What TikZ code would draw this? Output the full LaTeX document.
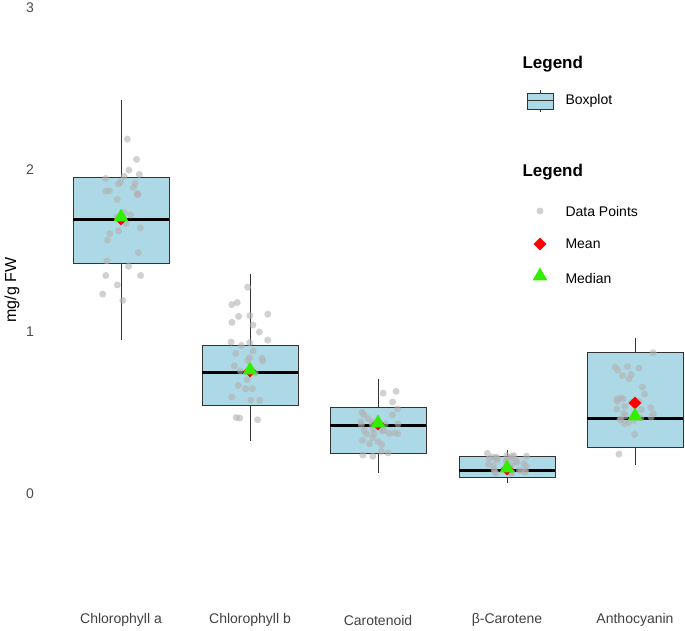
\documentclass[tikz,border=0pt]{standalone}
\usepackage{fontspec}
\setmainfont{Liberation Sans}
\usetikzlibrary{shapes.geometric,positioning}
\definecolor{boxfill}{HTML}{ADD8E6}
\definecolor{medgreen}{HTML}{33EE00}
\tikzset{
  databox/.style={draw=black!80,fill=boxfill,line width=0.8pt},
  medline/.style={line width=3pt},
  jitpt/.style={circle,fill=gray!60,opacity=0.6,inner sep=0pt,minimum size=7pt},
  meanmark/.style={diamond,fill=red,inner sep=0pt,minimum size=13pt},
  medmark/.style={regular polygon,regular polygon sides=3,fill=medgreen,inner sep=0pt,minimum size=17pt},
  ticklab/.style={text=black!70,font=\fontsize{14}{16}\selectfont},
  catlab/.style={text=black!75,font=\fontsize{14}{16}\selectfont},
  legtxt/.style={anchor=west,font=\fontsize{14}{16}\selectfont},
  leghead/.style={anchor=west,font=\fontsize{17}{19}\selectfont\bfseries}
}
\begin{document}
\begin{tikzpicture}[x=1pt,y=-1pt]
        \useasboundingbox (0,0) rectangle (685,631);
        % value v sits at y = 494 - 162 v
        \foreach \v/\y in {0/494,1/332,2/170,3/8}
          \node[ticklab] (tick\v) at (30,\y) {\v};
        \node[rotate=90,font=\fontsize{16}{18}\selectfont] (ylab) at (12,290) {mg/g FW};
        % cx / box lo / box hi / median / mean / whisker lo / whisker hi / name / label
        \foreach \cx/\bl/\bh/\md/\mn/\wl/\wh/\nm/\lab in {
            121/263/177/219/219/340/100/chla/Chlorophyll a,
            250/405/345/372/371/441/274/chlb/Chlorophyll b,
            378/453/407/425/424/473/379/caro/Carotenoid,
            507/477/456/470/469/483/450/bcar/β-Carotene,
            635/447/352/418/403/465/338/anth/Anthocyanin} {
          \draw[black!80] (\cx,\wl) -- (\cx,\wh);
          \draw[databox] (\cx-48,\bl) rectangle (\cx+48,\bh);
          \draw[medline] (\cx-48,\md) -- (\cx+48,\md);
          \pgfmathsetseed{\cx}
          \foreach \i in {1,...,32} {
            \pgfmathsetmacro\px{\cx+20*rand}
            \pgfmathsetmacro\py{\wh+(\wl-\wh)*(rnd+rnd+rnd)/3}
            \node[jitpt] at (\px,\py) {};
          }
          \node[meanmark] (mean\nm) at (\cx,\mn) {};
          \node[medmark] (med\nm) at (\cx,\md-2) {};
          \node[catlab] (cat\nm) at (\cx,620) {\lab};
        }
        % legends
        \node[leghead] (leg1) at (519,64) {Legend};
        \draw[black!80] (540,90) -- (540,112);
        \draw[databox] (527,93) rectangle (553,109);
        \draw[black!80,line width=1pt] (527,101) -- (553,101);
        \node[legtxt] (legbox) at (562,101) {Boxplot};
        \node[leghead] (leg2) at (519,172) {Legend};
        \node[jitpt] (kpt) at (540,211) {};
        \node[legtxt] (legpt) at (562,211) {Data Points};
        \node[meanmark] (kmean) at (540,244) {};
        \node[legtxt] (legmean) at (562,244) {Mean};
        \node[medmark] (kmed) at (540,276) {};
        \node[legtxt] (legmed) at (562,278) {Median};
\end{tikzpicture}
\end{document}
